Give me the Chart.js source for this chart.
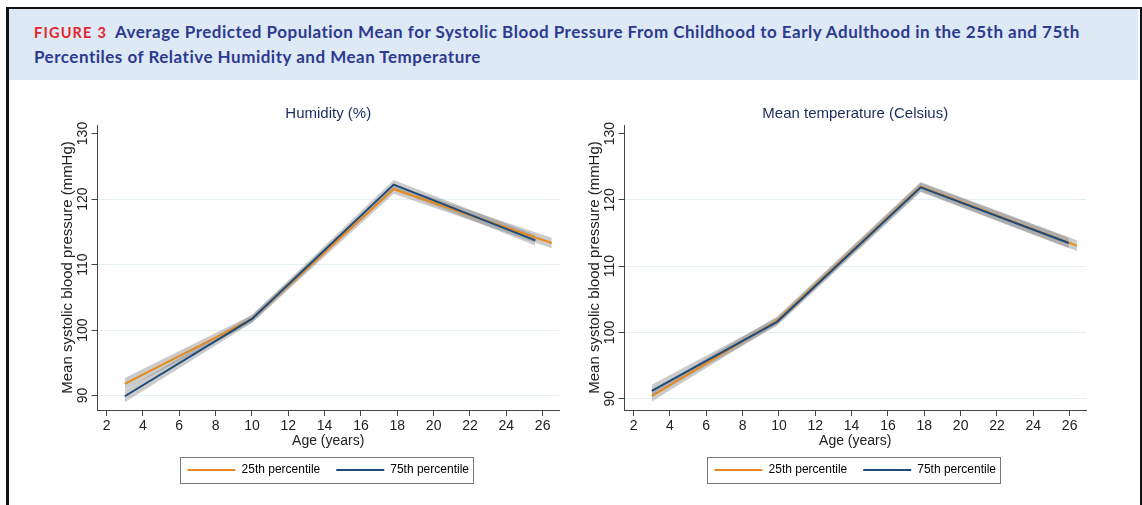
<!DOCTYPE html>
<html>
<head>
<meta charset="utf-8">
<script src="https://cdn.jsdelivr.net/npm/chart.js@4"></script>
<style>
    body { margin: 0; background: #fff; width: 1142px; height: 505px; overflow: hidden; position: relative; }
    #frame { position: absolute; left: 6px; top: 7px; width: 1131px; height: 520px; border-left: 3px solid #111; border-top: 2px solid #111; border-right: 2px solid #111; }
    #header { position: absolute; left: 9px; top: 9px; width: 1129px; height: 71px; background: #dde9f5; }
    #caption { position: absolute; left: 34px; top: 20px; margin: 0; font-family: Lato, 'Noto Sans', sans-serif; font-weight: 700; font-size: 17px; letter-spacing: 0.5px; line-height: 24px; color: #2d3a8f; white-space: nowrap; }
    #caption .fig { color: #e4262c; font-size: 14.5px; letter-spacing: 1.2px; margin-right: 8px; }
    .wrap { position: absolute; top: 96px; width: 525px; height: 400px; }
</style>
</head>
<body>
<div id="frame"></div>
<div id="header"></div>
<p id="caption"><span class="fig">FIGURE 3</span>Average Predicted Population Mean for Systolic Blood Pressure From Childhood to Early Adulthood in the 25th and 75th<br>Percentiles of Relative Humidity and Mean Temperature</p>
<div class="wrap" style="left:45px"><canvas id="humidityChart"></canvas></div>
<div class="wrap" style="left:572px"><canvas id="tempChart"></canvas></div>
<script>
// Axis ticks
const xTicks = [2, 4, 6, 8, 10, 12, 14, 16, 18, 20, 22, 24, 26];
const yTicks = [90, 100, 110, 120, 130];

// Humidity panel (ages in years, SBP in mmHg)
const humAge25 = [3, 10, 17.8, 26.5];
const humMean25 = [91.8, 101.7, 121.5, 113.3];
const humLow25 = [90.9, 101.1, 120.8, 112.5];
const humHigh25 = [92.7, 102.3, 122.2, 114.1];
const humAge75 = [3, 10, 17.8, 25.6];
const humMean75 = [89.9, 101.7, 122.2, 113.7];
const humLow75 = [89.0, 101.1, 121.5, 112.9];
const humHigh75 = [90.8, 102.3, 122.9, 114.5];

// Mean temperature panel
const tempAge25 = [3, 9.9, 17.8, 26.4];
const tempMean25 = [90.4, 101.8, 122.0, 113.1];
const tempLow25 = [89.6, 101.2, 121.3, 112.3];
const tempHigh25 = [91.2, 102.4, 122.7, 113.9];
const tempAge75 = [3, 9.9, 17.8, 25.95];
const tempMean75 = [91.2, 101.6, 121.9, 113.5];
const tempLow75 = [90.3, 101.0, 121.2, 112.7];
const tempHigh75 = [92.1, 102.2, 122.6, 114.3];

const ORANGE = '#e8891f';
const NAVY = '#1e4c7a';
const BAND = 'rgba(130, 130, 130, 0.42)';
const AXIS = '#444';

Chart.defaults.font.family = "'Liberation Sans', Arial, sans-serif";
Chart.defaults.color = '#222';

function points(xs, ys) {
    return xs.map((x, i) => ({ x: x, y: ys[i] }));
}

// draws the grey frame round the legend
const legendBox = {
    id: 'legendBox',
    afterDraw(chart) {
        const boxes = chart.legend.legendHitBoxes;
        if (!boxes || !boxes.length) return;
        const left = Math.min(...boxes.map(b => b.left)) - 8;
        const right = Math.max(...boxes.map(b => b.left + b.width)) + 4;
        const top = boxes[0].top - 7;
        const bottom = boxes[0].top + boxes[0].height + 7;
        const ctx = chart.ctx;
        ctx.save();
        ctx.strokeStyle = '#777';
        ctx.lineWidth = 1;
        ctx.strokeRect(Math.round(left) + 0.5, Math.round(top) + 0.5, Math.round(right - left), Math.round(bottom - top));
        ctx.restore();
    }
};

function createPanel(id, title, s25, s75, yMin) {
    const ctx = document.getElementById(id).getContext('2d');
    return new Chart(ctx, {
        type: 'line',
        data: {
            datasets: [
                { label: '25th percentile', data: points(s25.age, s25.mean), borderColor: ORANGE, backgroundColor: ORANGE, borderWidth: 2, order: 1 },
                { label: '75th percentile', data: points(s75.age, s75.mean), borderColor: NAVY, backgroundColor: NAVY, borderWidth: 2, order: 0 },
                { label: 'lo25', data: points(s25.age, s25.low), borderWidth: 0, fill: false, order: 5 },
                { label: 'hi25', data: points(s25.age, s25.high), borderWidth: 0, fill: '-1', backgroundColor: BAND, order: 5 },
                { label: 'lo75', data: points(s75.age, s75.low), borderWidth: 0, fill: false, order: 4 },
                { label: 'hi75', data: points(s75.age, s75.high), borderWidth: 0, fill: '-1', backgroundColor: BAND, order: 4 }
            ]
        },
        options: {
            responsive: true,
            maintainAspectRatio: false,
            animation: false,
            layout: { padding: { left: 10, right: 11, top: 0, bottom: 10 } },
            elements: { point: { radius: 0 }, line: { tension: 0 } },
            plugins: {
                tooltip: { enabled: false },
                title: {
                    display: true,
                    text: title,
                    color: '#1c2b5e',
                    fullSize: false,
                    font: { size: 15, weight: 'normal' },
                    padding: { top: 9, bottom: 2 }
                },
                legend: {
                    position: 'bottom',
                    fullSize: false,
                    labels: {
                        boxWidth: 48,
                        boxHeight: 2,
                        padding: 16,
                        font: { size: 12 },
                        color: '#222',
                        generateLabels: chart => [0, 1].map(i => ({
                            text: chart.data.datasets[i].label,
                            fillStyle: chart.data.datasets[i].borderColor,
                            strokeStyle: chart.data.datasets[i].borderColor,
                            lineWidth: 0,
                            hidden: false,
                            datasetIndex: i
                        }))
                    }
                }
            },
            scales: {
                x: {
                    type: 'linear',
                    min: 1.5,
                    max: 26.9,
                    afterBuildTicks: scale => { scale.ticks = xTicks.map(v => ({ value: v })); },
                    afterFit: scale => { scale.height = 38; },
                    grid: { drawOnChartArea: false, tickLength: 6, tickColor: AXIS },
                    border: { color: AXIS, width: 1 },
                    ticks: { font: { size: 14 }, color: '#222', padding: 2, maxRotation: 0 },
                    title: { display: true, text: 'Age (years)', font: { size: 14 }, color: '#222', padding: { top: 0, bottom: -2 } }
                },
                y: {
                    type: 'linear',
                    min: yMin,
                    max: 131.3,
                    afterBuildTicks: scale => { scale.ticks = yTicks.map(v => ({ value: v })); },
                    afterFit: scale => { scale.width = 42.5; },
                    grid: {
                        tickLength: 6,
                        tickColor: AXIS,
                        color: c => (c.tick && c.tick.value === 130) ? 'rgba(0,0,0,0)' : '#e4eff2'
                    },
                    border: { color: AXIS, width: 1 },
                    ticks: { font: { size: 14 }, color: '#222', minRotation: 90, maxRotation: 90, crossAlign: 'center', padding: -3 },
                    title: { display: true, text: 'Mean systolic blood pressure (mmHg)', font: { size: 15 }, color: '#222', padding: { top: 4, bottom: 0 } }
                }
            }
        },
        plugins: [legendBox]
    });
}

createPanel('humidityChart', 'Humidity (%)',
    { age: humAge25, mean: humMean25, low: humLow25, high: humHigh25 },
    { age: humAge75, mean: humMean75, low: humLow75, high: humHigh75 },
    87.8);

createPanel('tempChart', 'Mean temperature (Celsius)',
    { age: tempAge25, mean: tempMean25, low: tempLow25, high: tempHigh25 },
    { age: tempAge75, mean: tempMean75, low: tempLow75, high: tempHigh75 },
    88.3);
</script>
</body>
</html>
